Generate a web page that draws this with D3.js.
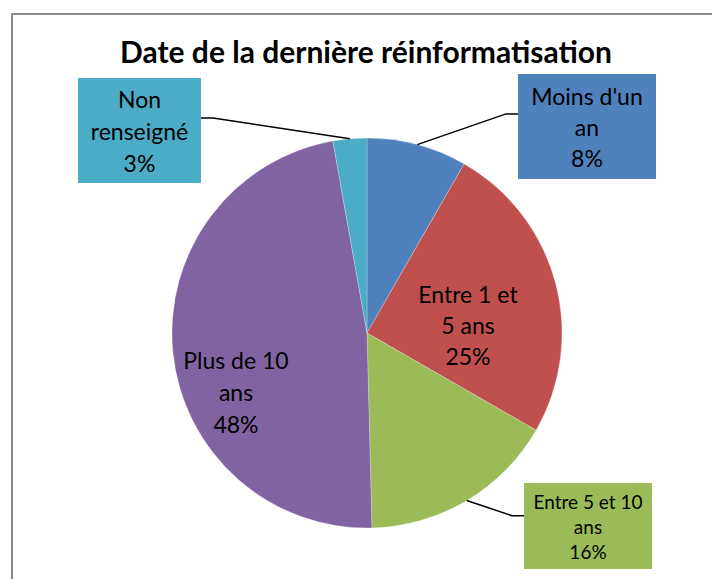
<!DOCTYPE html>
<html>
<head>
<meta charset="utf-8">
<script src="https://cdn.jsdelivr.net/npm/d3@7"></script>
<style>
  body { margin: 0; background: #fff; }
  text { font-family: Lato, "Open Sans", sans-serif; fill: #000; }
</style>
</head>
<body>
<script>
var swidth = 712,
    sheight = 579;

// chart data
var title = "Date de la dernière réinformatisation";
var categories = ["Moins d'un an", "Entre 1 et 5 ans", "Entre 5 et 10 ans", "Plus de 10 ans", "Non renseigné"];
var values = [8.3, 25.0, 16.3, 47.6, 2.8];
var labelLines = [["Moins d'un", "an"], ["Entre 1 et", "5 ans"], ["Entre 5 et 10", "ans"], ["Plus de 10", "ans"], ["Non", "renseigné"]];
var colors = ["#4F81BD", "#C0504D", "#9BBB59", "#8064A2", "#4BACC6"];

// label placement (layout only)
var layout = [
  {type: "box", x: 518, y: 74, w: 138, h: 105, side: "left", size: 23, lh: 31},
  {type: "inner", cx: 468, cy: 325, size: 23, lh: 31},
  {type: "box", x: 524, y: 483, w: 128, h: 86, side: "left", size: 19, lh: 25},
  {type: "inner", cx: 236, cy: 392, size: 23, lh: 32},
  {type: "box", x: 78, y: 78, w: 123, h: 105, side: "right", size: 23, lh: 32}
];

var cx = 367, cy = 333, radius = 195;

var svg = d3.select("body").append("svg")
    .attr("width", swidth)
    .attr("height", sheight);

// chart area frame
svg.append("rect")
    .attr("x", 12)
    .attr("y", 14)
    .attr("width", swidth)
    .attr("height", sheight)
    .attr("fill", "#fff")
    .attr("stroke", "#8a8a8a")
    .attr("stroke-width", 2);

svg.append("text")
    .attr("x", 366)
    .attr("y", 63)
    .attr("text-anchor", "middle")
    .attr("font-weight", "bold")
    .attr("font-size", 30)
    .text(title);

var total = d3.sum(values);
var pie = d3.pie().sort(null).value(function(d) { return d; });
var arcs = pie(values);

var arc = d3.arc().innerRadius(0).outerRadius(radius);
var edge = d3.arc().innerRadius(radius).outerRadius(radius);

var g = svg.append("g").attr("transform", "translate(" + cx + "," + cy + ")");

g.selectAll("path.slice")
  .data(arcs)
  .enter().append("path")
    .attr("class", "slice")
    .attr("d", arc)
    .attr("fill", function(d, i) { return colors[i]; })
    .attr("stroke", "#fff")
    .attr("stroke-opacity", 0.4)
    .attr("stroke-width", 0.6);

// leader lines
arcs.forEach(function(d, i) {
  var L = layout[i];
  if (L.type !== "box") return;
  var c = edge.centroid(d);
  var ex = L.side === "left" ? L.x : L.x + L.w;
  var ey = L.y + L.h * 0.38;
  var bx = L.side === "left" ? ex - 12 : ex + 12;
  svg.append("path")
    .attr("d", d3.line()([[ex, ey], [bx, ey], [cx + c[0], cy + c[1]]]))
    .attr("fill", "none")
    .attr("stroke", "#000")
    .attr("stroke-width", 1.5);
});

// labels
arcs.forEach(function(d, i) {
  var L = layout[i];
  var lx, ly;
  if (L.type === "box") {
    svg.append("rect")
      .attr("x", L.x).attr("y", L.y)
      .attr("width", L.w).attr("height", L.h)
      .attr("fill", colors[i]);
    lx = L.x + L.w / 2;
    ly = L.y + L.h / 2;
  } else {
    lx = L.cx;
    ly = L.cy;
  }
  var lines = labelLines[i].concat([Math.round(d.value / total * 100) + "%"]);
  var t = svg.append("text")
    .attr("text-anchor", "middle")
    .attr("font-size", L.size);
  lines.forEach(function(s, k) {
    t.append("tspan")
      .attr("x", lx)
      .attr("y", ly + (k - (lines.length - 1) / 2) * L.lh)
      .attr("dominant-baseline", "central")
      .text(s);
  });
});
</script>
</body>
</html>
